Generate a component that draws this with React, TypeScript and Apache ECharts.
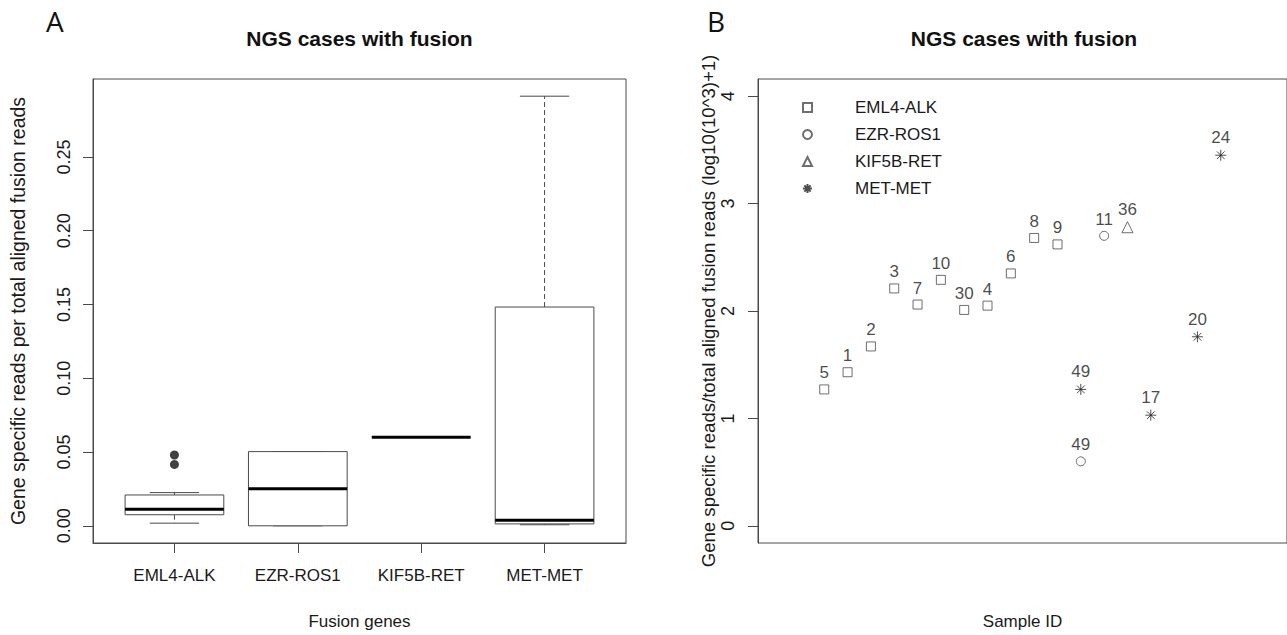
import React, { useEffect, useRef } from "react";
import * as echarts from "echarts";

// ---------- Panel A: box plot data ----------
const categories = ["EML4-ALK", "EZR-ROS1", "KIF5B-RET", "MET-MET"];
const boxLow = [0.0018, 0.0, 0.0601, 0.0007];
const boxQ1 = [0.0075, 0.0, 0.0601, 0.0013];
const boxMedian = [0.0112, 0.0252, 0.0601, 0.0037];
const boxQ3 = [0.0209, 0.0503, 0.0601, 0.1483];
const boxHigh = [0.0225, 0.0503, 0.0601, 0.2912];
const outlierCat = [1, 1];
const outlierVal = [0.048, 0.0416];
const yTicksA = [0, 0.05, 0.1, 0.15, 0.2, 0.25];

// ---------- Panel B: scatter data ----------
const eml4AlkIds = ["5", "1", "2", "3", "7", "10", "30", "4", "6", "8", "9"];
const eml4AlkX = [1, 2, 3, 4, 5, 6, 7, 8, 9, 10, 11];
const eml4AlkY = [1.27, 1.43, 1.67, 2.21, 2.06, 2.29, 2.01, 2.05, 2.35, 2.68, 2.62];
const ezrRos1Ids = ["49", "11"];
const ezrRos1X = [12, 13];
const ezrRos1Y = [0.6, 2.7];
const kif5bRetIds = ["36"];
const kif5bRetX = [14];
const kif5bRetY = [2.78];
const metMetIds = ["49", "17", "20", "24"];
const metMetX = [12, 15, 17, 18];
const metMetY = [1.27, 1.03, 1.76, 3.45];
const yTicksB = [0, 1, 2, 3, 4];

const FONT = "Liberation Sans, Arial, sans-serif";
const TXT = "#1a1a1a";
const LINE = "#4a4a4a";

const STAR = "path://M0,-10L0,10M-10,0L10,0M-7,-7L7,7M-7,7L7,-7";

function pts(ids: string[], xs: number[], ys: number[]) {
  return ids.map((id, i) => ({ name: id, value: [xs[i], ys[i]] }));
}

export default function App() {
  const ref = useRef<HTMLDivElement>(null);
  useEffect(() => {
    document.body.style.margin = "0";
    if (!ref.current) return;
    const chart = echarts.init(ref.current, undefined, { renderer: "svg" });

    const boxData = categories.map((_, i) => [i + 1, boxLow[i], boxQ1[i], boxMedian[i], boxQ3[i], boxHigh[i]]);

    const renderBox = (params: any, api: any) => {
      const x = api.value(0);
      const lo = api.value(1), q1 = api.value(2), med = api.value(3), q3 = api.value(4), hi = api.value(5);
      const xl = api.coord([x - 0.4, q1])[0];
      const xr = api.coord([x + 0.4, q1])[0];
      const xc = api.coord([x, q1])[0];
      const capL = api.coord([x - 0.2, q1])[0];
      const capR = api.coord([x + 0.2, q1])[0];
      const y = (v: number) => api.coord([x, v])[1];
      const yLo = y(lo), yQ1 = y(q1), yMed = y(med), yQ3 = y(q3), yHi = y(hi);
      const ls = { stroke: LINE, lineWidth: 1, fill: null };
      const ds = { stroke: LINE, lineWidth: 1, lineDash: [5, 3], fill: null };
      return {
        type: "group",
        children: [
          { type: "line", shape: { x1: xc, y1: yQ3, x2: xc, y2: yHi }, style: ds },
          { type: "line", shape: { x1: xc, y1: yQ1, x2: xc, y2: yLo }, style: ds },
          { type: "line", shape: { x1: capL, y1: yHi, x2: capR, y2: yHi }, style: ls },
          { type: "line", shape: { x1: capL, y1: yLo, x2: capR, y2: yLo }, style: ls },
          { type: "rect", shape: { x: xl, y: yQ3, width: xr - xl, height: yQ1 - yQ3 }, style: { fill: "#fff", stroke: LINE, lineWidth: 1 } },
          { type: "line", shape: { x1: xl, y1: yMed, x2: xr, y2: yMed }, style: { stroke: "#000", lineWidth: 3 } },
        ],
      };
    };

    const axisLabelStyle = { fontFamily: FONT, fontSize: 17, color: TXT };
    const rotLabelStyle = { fontFamily: FONT, fontSize: 18, color: TXT };
    const scatterBase = {
      type: "scatter",
      xAxisIndex: 1,
      yAxisIndex: 1,
      label: {
        show: true,
        position: "top",
        distance: 3,
        formatter: "{b}",
        fontFamily: FONT,
        fontSize: 17,
        color: TXT,
      },
    };

    const option: any = {
      animation: false,
      backgroundColor: "#fff",
      grid: [
        { left: 93, top: 79, width: 533, height: 470, show: true, borderColor: LINE, borderWidth: 1, backgroundColor: "transparent" },
        { left: 758, top: 79, width: 532, height: 470, show: true, borderColor: LINE, borderWidth: 1, backgroundColor: "transparent" },
      ],
      xAxis: [
        {
          type: "value",
          gridIndex: 0,
          min: 0.34,
          max: 4.66,
          splitLine: { show: false },
          axisLine: { show: true, onZero: false, lineStyle: { color: LINE } },
          axisTick: { show: true, inside: false, length: 10, lineStyle: { color: LINE }, customValues: [1, 2, 3, 4] },
          axisLabel: {
            ...axisLabelStyle,
            margin: 24,
            customValues: [1, 2, 3, 4],
            formatter: (v: number) => categories[Math.round(v) - 1],
          },
          name: "Fusion genes",
          nameLocation: "middle",
          nameGap: 70,
          nameTextStyle: { fontFamily: FONT, fontSize: 17, color: TXT },
        },
        {
          type: "value",
          gridIndex: 1,
          min: -1.84,
          max: 20.84,
          splitLine: { show: false },
          axisLine: { show: false, onZero: false },
          axisTick: { show: false },
          axisLabel: { show: false },
          name: "Sample ID",
          nameLocation: "middle",
          nameGap: 70,
          nameTextStyle: { fontFamily: FONT, fontSize: 17, color: TXT },
        },
      ],
      yAxis: [
        {
          type: "value",
          gridIndex: 0,
          min: -0.01165,
          max: 0.30285,
          splitLine: { show: false },
          axisLine: { show: true, onZero: false, lineStyle: { color: LINE } },
          axisTick: { show: true, inside: false, length: 10, lineStyle: { color: LINE }, customValues: yTicksA },
          axisLabel: {
            ...rotLabelStyle,
            rotate: 90,
            margin: 20,
            customValues: yTicksA,
            formatter: (v: number) => v.toFixed(2),
          },
          name: "Gene specific reads per total aligned fusion reads",
          nameLocation: "middle",
          nameRotate: 90,
          nameGap: 65,
          nameTextStyle: { fontFamily: FONT, fontSize: 19.5, color: TXT },
        },
        {
          type: "value",
          gridIndex: 1,
          min: -0.16,
          max: 4.16,
          splitLine: { show: false },
          axisLine: { show: true, onZero: false, lineStyle: { color: LINE } },
          axisTick: { show: true, inside: false, length: 10, lineStyle: { color: LINE }, customValues: yTicksB },
          axisLabel: {
            ...rotLabelStyle,
            rotate: 90,
            margin: 21,
            customValues: yTicksB,
            formatter: (v: number) => String(v),
          },
          name: "Gene specific reads/total aligned fusion reads (log10(10^3)+1)",
          nameLocation: "middle",
          nameRotate: 90,
          nameGap: 36,
          nameTextStyle: { fontFamily: FONT, fontSize: 18.6, color: TXT },
        },
      ],
      legend: {
        orient: "vertical",
        left: 797,
        top: 94,
        itemWidth: 9,
        itemHeight: 9,
        itemGap: 10,
        textStyle: { fontFamily: FONT, fontSize: 17, color: TXT, padding: [0, 0, 0, 38] },
        data: ["EML4-ALK", "EZR-ROS1", "KIF5B-RET", "MET-MET"],
      },
      graphic: [
        { type: "text", left: 46, top: 7, style: { text: "A", font: "28px 'Open Sans', sans-serif", fill: "#111" } },
        { type: "text", left: 707, top: 7, style: { text: "B", font: "28px 'Open Sans', sans-serif", fill: "#111" } },
        { type: "text", x: 359.5, y: 38, style: { text: "NGS cases with fusion", font: `bold 21px ${FONT}`, fill: "#111", textAlign: "center", textVerticalAlign: "middle" } },
        { type: "text", x: 1024, y: 38, style: { text: "NGS cases with fusion", font: `bold 21px ${FONT}`, fill: "#111", textAlign: "center", textVerticalAlign: "middle" } },
      ],
      series: [
        {
          type: "custom",
          name: "boxes",
          xAxisIndex: 0,
          yAxisIndex: 0,
          renderItem: renderBox,
          encode: { x: 0, y: [1, 2, 3, 4, 5] },
          data: boxData,
          z: 2,
        },
        {
          type: "scatter",
          name: "outliers",
          xAxisIndex: 0,
          yAxisIndex: 0,
          symbol: "circle",
          symbolSize: 9,
          itemStyle: { color: "#111" },
          data: outlierCat.map((c, i) => [c, outlierVal[i]]),
          z: 3,
        },
        {
          ...scatterBase,
          name: "EML4-ALK",
          symbol: "rect",
          symbolSize: 9,
          itemStyle: { color: "#fff", borderColor: LINE, borderWidth: 1 },
          data: pts(eml4AlkIds, eml4AlkX, eml4AlkY),
        },
        {
          ...scatterBase,
          name: "EZR-ROS1",
          symbol: "circle",
          symbolSize: 9,
          itemStyle: { color: "#fff", borderColor: LINE, borderWidth: 1 },
          data: pts(ezrRos1Ids, ezrRos1X, ezrRos1Y),
        },
        {
          ...scatterBase,
          name: "KIF5B-RET",
          symbol: "triangle",
          symbolSize: 11,
          itemStyle: { color: "#fff", borderColor: LINE, borderWidth: 1 },
          data: pts(kif5bRetIds, kif5bRetX, kif5bRetY),
        },
        {
          ...scatterBase,
          name: "MET-MET",
          symbol: STAR,
          symbolSize: 11,
          itemStyle: { color: "#222", borderColor: "#222", borderWidth: 1 },
          data: pts(metMetIds, metMetX, metMetY),
        },
      ],
    };

    chart.setOption(option);
    return () => chart.dispose();
  }, []);

  return <div ref={ref} style={{ width: 1287, height: 635 }} />;
}
